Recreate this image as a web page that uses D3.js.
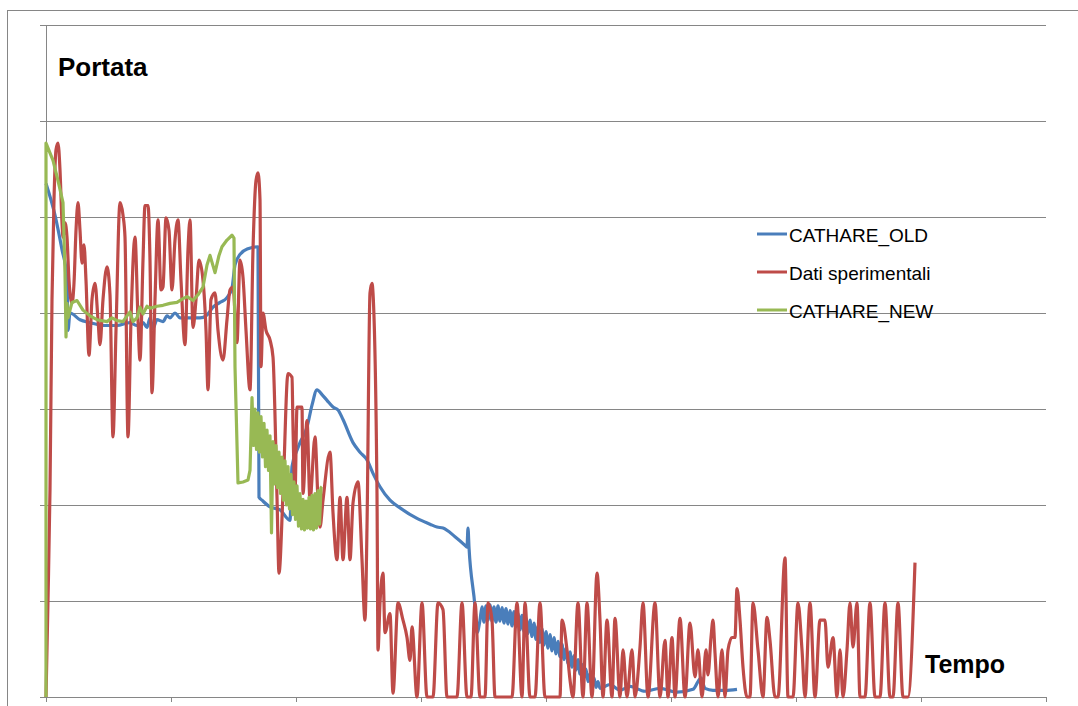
<!DOCTYPE html>
<html>
<head>
<meta charset="utf-8">
<script src="https://cdn.jsdelivr.net/npm/d3@7"></script>
<style>
  body { margin: 0; background: #fff; }
  text { font-family: "Liberation Sans", Arial, sans-serif; }
</style>
</head>
<body>
<div id="chart"></div>
<script>
// CATHARE_OLD
var timeOld = [0, 7.2, 12.8, 16.8, 17.6, 19.2, 27.2, 35.2, 45.6, 56.8,
  67.2, 72.8, 77.6, 80.8, 83.2, 85.6, 88.8, 93.6, 96.8, 99.2,
  103.2, 107.2, 115.2, 123.2, 128.8, 133.6, 139.2, 144.8, 148.8, 151.2,
  155.2, 161.6, 169.6, 170.4, 172.8, 179.2, 187.2, 195.2, 196.8, 200.8,
  203.2, 208.8, 212.8, 216.8, 220.8, 224.8, 229.6, 233.6, 237.6, 245.6,
  251.2, 256.8, 261.6, 267.2, 275.2, 283.2, 296.8, 307.2, 312.8, 317.6,
  327.2, 335.2, 336.8, 337.6, 338.4, 343.2, 344.8,
  347.2, 348.8, 350.4, 352, 353.6, 355.2, 356.8, 358.4, 360, 361.6,
  363.2, 364.8, 366.4, 368, 369.6, 371.2, 372.8, 374.4, 376, 377.6,
  379.2, 380.8, 382.4, 384, 385.6, 387.2, 388.8, 390.4, 392, 393.6,
  395.2, 396.8, 398.4, 400, 401.6, 403.2, 404.8, 406.4, 408, 409.6,
  411.2, 412.8, 414.4, 416, 417.6, 419.2, 420.8, 422.4, 424, 425.6,
  427.2, 428.8, 430.4, 432, 433.6, 435.2, 436.8, 438.4, 440, 441.6,
  443.2, 451.2, 459.2, 467.2, 479.2, 491.2, 504.8, 517.6, 521.6, 524,
  527.2, 533.6, 543.2, 552.8];
var flowOld = [535, 502, 466, 437, 382, 400, 393, 390, 387, 387,
  390, 387, 390, 385, 395, 384, 393, 391, 397, 395,
  400, 395, 395, 395, 398, 406, 411, 416, 426, 450,
  461, 467, 469, 208, 205, 198, 195, 184, 240, 257,
  265, 281, 304, 320, 315, 309, 302, 299, 289, 265,
  255, 247, 233, 219, 205, 197, 186, 180, 177, 176,
  167, 158, 156, 176, 156, 94, 67,
  80, 94, 78, 95, 80, 96, 79, 94, 78, 95,
  79, 93, 77, 92, 76, 90, 74, 89, 73, 87,
  70, 85, 68, 82, 66, 80, 63, 77, 60, 74,
  57, 71, 54, 68, 51, 65, 48, 62, 45, 58,
  42, 55, 39, 51, 35, 47, 31, 43, 28, 39,
  24, 34, 20, 29, 16, 24, 12, 20, 10, 16,
  9, 13, 7, 11, 6, 9, 5, 8, 16, 20,
  9, 7, 7, 8];

// Dati sperimentali
var timeExp = [0, 1.6, 3.2, 4.8, 6.4, 8, 9.6, 11.2, 12.8, 13.6,
  15.2, 16.8, 18.4, 20.8, 22.4, 24, 25.6, 27.2, 28.8, 30.4,
  32, 34.4, 36.8, 39.2, 41.6, 43.2, 45.6, 48.8, 51.2, 53.6,
  56, 59.2, 61.6, 63.2, 65.6, 68, 71.2, 73.6, 75.2, 77.6,
  79.2, 81.6, 83.2, 84.8, 87.2, 89.6, 92, 93.6, 96, 98.4,
  100.8, 103.2, 105.6, 108, 111.2, 113.6, 115.2, 117.6, 120, 122.4,
  125.6, 128, 129.6, 132, 135.2, 137.6, 141.6, 144.8, 147.2, 149.6,
  152.8, 155.2, 157.6, 160, 163.2, 165.6, 168, 169.6, 171.2, 172,
  173.6, 176, 179.2, 181.6, 184.8, 186.4, 189.6, 193.6, 196.8, 197.6,
  199.2, 200.8, 204.8, 205.6, 208.8, 211.2, 215.2, 217.6, 219.2, 221.6,
  227.2, 229.6, 232.8, 235.2, 237.6, 240.8, 243.2, 245.6, 249.6, 252.8,
  255.2, 256.8, 259.2, 260.8, 261.6, 264.8, 265.6, 267.2, 269.6, 271.2,
  275.2, 277.6, 281.6, 285.6, 288.8, 291.2, 292.8, 296.8, 300.8, 304.8,
  309.6, 313.6, 317.6, 320.8, 328.8, 332.8, 336.8, 340, 343.2, 347.2,
  351.2, 353.6, 356.8, 359.2, 372.8, 376.8, 380.8, 383.2, 387.2, 391.2,
  395.2, 399.2, 411.2, 412.8, 416.8, 419.2, 421.6, 425.6, 429.6, 432.8,
  436.8, 440.8, 443.2, 445.6, 448.8, 452.8, 455.2, 459.2, 461.6, 464.8,
  468.8, 471.2, 475.2, 477.6, 481.6, 487.2, 491.2, 495.2, 497.6, 500.8,
  503.2, 507.2, 511.2, 515.2, 519.2, 521.6, 524.8, 528, 529.6, 532,
  533.6, 535.2, 537.6, 540.8, 543.2, 545.6, 548.8, 551.2, 552.8, 555.2,
  557.6, 560.8, 563.2, 565.6, 569.6, 573.6, 576.8, 579.2, 583.2, 585.6,
  591.2, 593.6, 597.6, 601.6, 604.8, 607.2, 611.2, 615.2, 619.2, 623.2,
  625.6, 629.6, 632.8, 635.2, 637.6, 640.8, 643.2, 645.6, 648.8, 651.2,
  655.2, 659.2, 663.2, 667.2, 671.2, 675.2, 677.6, 681.6, 685.6, 689.6,
  695.2];
var flowExp = [0, 101, 216, 414, 518, 570, 577, 549, 494, 479,
  494, 479, 434, 410, 431, 486, 515, 486, 452, 471,
  434, 356, 414, 431, 393, 367, 414, 448, 419, 271,
  382, 515, 502, 479, 271, 393, 479, 393, 351, 455,
  512, 512, 455, 317, 414, 497, 424, 427, 499, 486,
  424, 476, 497, 434, 367, 466, 497, 385, 414, 455,
  434, 382, 320, 414, 421, 382, 351, 393, 424, 427,
  369, 455, 437, 382, 320, 466, 538, 546, 518, 344,
  400, 382, 372, 354, 208, 129, 212, 337, 333, 281,
  212, 302, 302, 212, 288, 205, 271, 205, 177, 205,
  255, 192, 143, 208, 143, 208, 143, 202, 224, 143,
  80, 177, 421, 431, 421, 212, 49, 98, 129, 67,
  87, 4, 98, 80, 62, 38, 73, 0, 98, 0,
  0, 98, 91, 0, 0, 98, 0, 0, 98, 0,
  0, 98, 80, 0, 0, 98, 0, 98, 0, 0,
  98, 0, 0, 80, 49, 18, 0, 98, 0, 98,
  0, 129, 80, 0, 80, 0, 82, 0, 49, 0,
  49, 0, 52, 98, 0, 98, 0, 59, 0, 62,
  0, 82, 0, 77, 21, 49, 0, 49, 23, 62,
  80, 46, 0, 49, 0, 49, 62, 62, 113, 80,
  31, 0, 0, 98, 49, 0, 83, 59, 0, 0,
  145, 0, 0, 98, 49, 0, 98, 0, 80, 80,
  31, 62, 0, 49, 0, 49, 98, 52, 98, 0,
  0, 98, 0, 0, 98, 0, 0, 98, 0, 0,
  140];

// CATHARE_NEW
var timeNew = [0, 0, 5.6, 9.6, 13.6, 15.2, 16, 16.8, 17.6, 20.8,
  24.8, 29.6, 35.2, 40.8, 48.8, 52.8, 56.8, 61.6, 64.8, 67.2,
  69.6, 72.8, 75.2, 77.6, 80.8, 83.2, 88.8, 93.6, 99.2, 104.8,
  109.6, 112.8, 117.6, 121.6, 125.6, 128.8, 131.2, 135.2, 138.4, 140.8,
  144.8, 148.8, 150.4, 151.2, 153.6, 157.6, 161.6, 163.2, 164.8,
  166, 167.2, 168.4, 169.6, 170.8, 172, 173.2, 174.4, 175.6, 176.8,
  178, 179.2, 180.4, 181.6, 182.8, 184, 185.2, 186.4, 187.6, 188.8,
  190, 191.2, 192.4, 193.6, 194.8, 196, 197.2, 198.4, 199.6, 200.8,
  202, 203.2, 204.4, 205.6, 206.8, 208, 209.2, 210.4, 211.6, 212.8,
  214, 215.2, 216.4, 217.6, 218.8, 220, 220.8];
var flowNew = [0, 577, 559, 538, 515, 442, 375, 410, 395, 411,
  413, 403, 397, 393, 391, 395, 392, 391, 397, 401,
  391, 395, 406, 399, 407, 405, 407, 408, 410, 411,
  415, 417, 413, 419, 427, 450, 460, 442, 460, 469,
  476, 481, 478, 344, 223, 224, 226, 236, 312,
  262, 300, 258, 296, 255, 292, 250, 285, 240, 278,
  236, 272, 171, 266, 222, 262, 218, 255, 212, 250,
  205, 246, 200, 240, 196, 232, 190, 224, 185, 220,
  178, 212, 175, 206, 174, 204, 176, 208, 175, 210,
  174, 212, 176, 215, 180, 218, 219];

var seriesNames = ["CATHARE_OLD", "Dati sperimentali", "CATHARE_NEW"];
var seriesColors = ["#4A7EBB", "#BE4B48", "#98B954"];
var xTicks = [0, 100, 200, 300, 400, 500, 600, 700, 800];
var yTicks = [0, 100, 200, 300, 400, 500, 600, 700];

var w = 1078;
var h = 706;
var plotLeft = 46, plotRight = 1046, plotTop = 25, plotBottom = 697;

var svg = d3.select("#chart")
  .append("svg")
  .attr("width", w)
  .attr("height", h);

// outer frame
svg.append("rect")
  .attr("x", 7.5)
  .attr("y", 10.5)
  .attr("width", 1090)
  .attr("height", 720)
  .attr("fill", "none")
  .attr("stroke", "#868686")
  .attr("stroke-width", 1);

var x = d3.scaleLinear().domain([0, 800]).range([plotLeft, plotRight]);
var y = d3.scaleLinear().domain([0, 700]).range([plotBottom, plotTop]);

// horizontal grid, starting a bit left of the axis like tick marks
svg.append("g")
  .attr("transform", "translate(" + (plotLeft - 6) + ",0)")
  .call(d3.axisLeft(y).tickValues(yTicks).tickSize(-(plotRight - plotLeft + 6)).tickFormat(""))
  .call(function(g) { g.select(".domain").remove(); })
  .selectAll("line")
  .attr("stroke", "#868686");

// vertical axis
svg.append("line")
  .attr("x1", plotLeft + 0.5).attr("x2", plotLeft + 0.5)
  .attr("y1", plotTop).attr("y2", plotBottom)
  .attr("stroke", "#868686");

// horizontal axis with ticks
var xAxis = svg.append("g")
  .attr("transform", "translate(0," + plotBottom + ")")
  .call(d3.axisBottom(x).tickValues(xTicks).tickSize(5).tickSizeOuter(0).tickFormat(""));
xAxis.select(".domain").attr("stroke", "#868686");
xAxis.selectAll("line").attr("stroke", "#868686");

function makeData(ts, fs) {
  return ts.map(function(t, i) { return [t, fs[i]]; });
}

var smooth = d3.line()
  .x(function(d) { return x(d[0]); })
  .y(function(d) { return y(d[1]); })
  .curve(d3.curveMonotoneX);
var straight = d3.line()
  .x(function(d) { return x(d[0]); })
  .y(function(d) { return y(d[1]); });

svg.append("path")
  .datum(makeData(timeOld, flowOld))
  .attr("d", smooth)
  .attr("fill", "none")
  .attr("stroke", seriesColors[0])
  .attr("stroke-width", 3.2)
  .attr("stroke-linejoin", "round");

svg.append("path")
  .datum(makeData(timeExp, flowExp))
  .attr("d", smooth)
  .attr("fill", "none")
  .attr("stroke", seriesColors[1])
  .attr("stroke-width", 3.2)
  .attr("stroke-linejoin", "round");

svg.append("path")
  .datum(makeData(timeNew, flowNew))
  .attr("d", straight)
  .attr("fill", "none")
  .attr("stroke", seriesColors[2])
  .attr("stroke-width", 3.2)
  .attr("stroke-linejoin", "round");

// axis titles
svg.append("text")
  .attr("x", 58)
  .attr("y", 76)
  .attr("font-size", "26px")
  .attr("font-weight", "bold")
  .text("Portata");

svg.append("text")
  .attr("x", 925)
  .attr("y", 673)
  .attr("font-size", "25px")
  .attr("font-weight", "bold")
  .text("Tempo");

// legend
var legend = svg.selectAll(".legend")
  .data(seriesNames)
  .enter()
  .append("g")
  .attr("class", "legend")
  .attr("transform", function(d, i) { return "translate(757," + (234 + i * 38) + ")"; });

legend.append("line")
  .attr("x1", 0).attr("x2", 30)
  .attr("y1", 0).attr("y2", 0)
  .attr("stroke", function(d, i) { return seriesColors[i]; })
  .attr("stroke-width", 3);

legend.append("text")
  .attr("x", 32)
  .attr("y", 8)
  .attr("font-size", "19px")
  .attr("fill", "#000")
  .text(function(d) { return d; });
</script>
</body>
</html>
